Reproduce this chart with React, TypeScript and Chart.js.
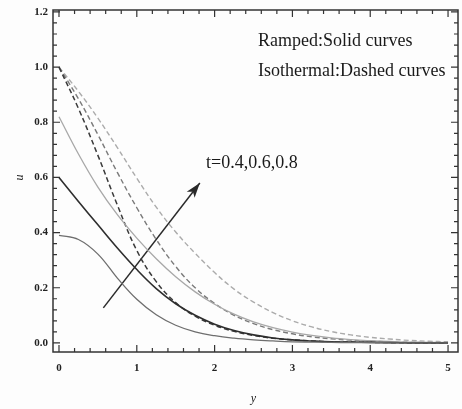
import React, { useEffect, useRef } from "react";
import { Chart, registerables } from "chart.js";

Chart.register(...registerables);

// ---- data ----
const yPos = [0, 0.25, 0.5, 0.75, 1, 1.25, 1.5, 1.75, 2, 2.25, 2.5, 2.75, 3, 3.25, 3.5, 3.75, 4, 4.25, 4.5, 4.75, 5];

const rampedT04 = [0.39, 0.375, 0.322, 0.235, 0.158, 0.102, 0.064, 0.040, 0.026, 0.017, 0.011, 0.007, 0.004, 0.003, 0.002, 0.001, 0.001, 0, 0, 0, 0];
const rampedT06 = [0.60, 0.513, 0.428, 0.344, 0.266, 0.197, 0.142, 0.10, 0.068, 0.045, 0.029, 0.018, 0.011, 0.007, 0.004, 0.003, 0.002, 0.001, 0, 0, 0];
const rampedT08 = [0.82, 0.685, 0.565, 0.465, 0.38, 0.305, 0.24, 0.185, 0.14, 0.104, 0.076, 0.055, 0.039, 0.027, 0.018, 0.012, 0.008, 0.005, 0.003, 0.002, 0.001];

const isoT04 = [1.0, 0.85, 0.68, 0.50, 0.335, 0.222, 0.146, 0.097, 0.064, 0.042, 0.027, 0.017, 0.011, 0.007, 0.004, 0.003, 0.002, 0.001, 0, 0, 0];
const isoT06 = [1.0, 0.885, 0.755, 0.618, 0.49, 0.375, 0.277, 0.20, 0.143, 0.10, 0.07, 0.048, 0.033, 0.022, 0.015, 0.01, 0.006, 0.004, 0.002, 0.001, 0.001];
const isoT08 = [1.0, 0.912, 0.815, 0.708, 0.597, 0.492, 0.402, 0.325, 0.255, 0.195, 0.148, 0.11, 0.08, 0.058, 0.041, 0.029, 0.02, 0.014, 0.009, 0.006, 0.004];

const arrowX = [0.57, 1.81];
const arrowY = [0.127, 0.58];

const xTickValues = [0, 1, 2, 3, 4, 5];
const xTickLabels = ["0", "1", "2", "3", "4", "5"];
const yTickValues = [0, 0.2, 0.4, 0.6, 0.8, 1.0, 1.2];
const yTickLabels = ["0.0", "0.2", "0.4", "0.6", "0.8", "1.0", "1.2"];

const xTitle = "y";
const yTitle = "u";
const legendLine1 = "Ramped:Solid curves";
const legendLine2 = "Isothermal:Dashed curves";
const arrowLabel = "t=0.4,0.6,0.8";

const toPts = (ys: number[]) => ys.map((v, i) => ({ x: yPos[i], y: v }));

export default function App() {
  const ref = useRef<HTMLCanvasElement>(null);

  useEffect(() => {
    document.body.style.margin = "0";
    const canvas = ref.current!;

    const decor = {
      id: "decor",
      beforeDraw(chart: any) {
        const c = chart.ctx;
        c.save();
        c.fillStyle = "#fdfdfd";
        c.fillRect(0, 0, chart.width, chart.height);
        c.restore();
      },
      afterDraw(chart: any) {
        const c = chart.ctx;
        const xs = chart.scales.x;
        const ys = chart.scales.y;
        const a = chart.chartArea;
        c.save();
        // arrow head
        const p0x = xs.getPixelForValue(arrowX[0]);
        const p0y = ys.getPixelForValue(arrowY[0]);
        const p1x = xs.getPixelForValue(arrowX[1]);
        const p1y = ys.getPixelForValue(arrowY[1]);
        const ang = Math.atan2(p1y - p0y, p1x - p0x);
        const L = 15, W = 5;
        c.fillStyle = "#2a2a2a";
        c.beginPath();
        c.moveTo(p1x, p1y);
        c.lineTo(p1x - L * Math.cos(ang) + W * Math.sin(ang), p1y - L * Math.sin(ang) - W * Math.cos(ang));
        c.lineTo(p1x - L * 0.75 * Math.cos(ang), p1y - L * 0.75 * Math.sin(ang));
        c.lineTo(p1x - L * Math.cos(ang) - W * Math.sin(ang), p1y - L * Math.sin(ang) + W * Math.cos(ang));
        c.closePath();
        c.fill();

        // frame
        c.strokeStyle = "#333";
        c.lineWidth = 1.5;
        c.strokeRect(a.left, a.top, a.right - a.left, a.bottom - a.top);

        // ticks
        c.lineWidth = 1.2;
        c.beginPath();
        for (let i = 0; i <= 25; i++) {
          const v = i * 0.2;
          const px = xs.getPixelForValue(v);
          const major = i % 5 === 0;
          const len = major ? 7 : 4;
          c.moveTo(px, a.bottom);
          c.lineTo(px, a.bottom - len);
          c.moveTo(px, a.top);
          c.lineTo(px, a.top + len);
        }
        for (let i = 0; i <= 30; i++) {
          const v = i * 0.04;
          const py = ys.getPixelForValue(v);
          const major = i % 5 === 0;
          const len = major ? 7 : 4;
          c.moveTo(a.left, py);
          c.lineTo(a.left + len, py);
          c.moveTo(a.right, py);
          c.lineTo(a.right - len, py);
        }
        c.stroke();

        // tick labels
        c.fillStyle = "#222";
        c.font = "bold 11px 'Liberation Serif', 'DejaVu Serif', serif";
        c.textAlign = "center";
        c.textBaseline = "middle";
        xTickValues.forEach((v, i) => {
          c.fillText(xTickLabels[i], xs.getPixelForValue(v), 368);
        });
        c.textAlign = "right";
        yTickValues.forEach((v, i) => {
          c.fillText(yTickLabels[i], 48, ys.getPixelForValue(v));
        });

        // axis titles
        c.font = "italic 12px 'Liberation Serif', serif";
        c.textAlign = "center";
        c.fillText(xTitle, (xs.getPixelForValue(0) + xs.getPixelForValue(5)) / 2, 399);
        c.save();
        c.translate(20, ys.getPixelForValue(0.6));
        c.rotate(-Math.PI / 2);
        c.fillText(yTitle, 0, 0);
        c.restore();

        // annotations
        c.font = "18px 'Liberation Serif', serif";
        c.textAlign = "left";
        c.fillStyle = "#1a1a1a";
        c.fillText(legendLine1, 258, 41);
        c.fillText(legendLine2, 258, 71);
        c.fillText(arrowLabel, 206, 163);
        c.restore();
      },
    };

    const common = { pointRadius: 0, fill: false, tension: 0.4 };

    const chart = new Chart(canvas, {
      type: "line",
      data: {
        datasets: [
          { ...common, data: toPts(rampedT04), borderColor: "#6e6e6e", borderWidth: 1.3 },
          { ...common, data: toPts(rampedT06), borderColor: "#2e2e2e", borderWidth: 1.6 },
          { ...common, data: toPts(rampedT08), borderColor: "#a8a8a8", borderWidth: 1.3 },
          { ...common, data: toPts(isoT04), borderColor: "#3a3a3a", borderWidth: 1.5, borderDash: [5, 3] },
          { ...common, data: toPts(isoT06), borderColor: "#7a7a7a", borderWidth: 1.4, borderDash: [5, 3] },
          { ...common, data: toPts(isoT08), borderColor: "#ababab", borderWidth: 1.4, borderDash: [5, 3] },
          {
            pointRadius: 0,
            fill: false,
            tension: 0,
            data: arrowX.map((x, i) => ({ x, y: arrowY[i] })),
            borderColor: "#2a2a2a",
            borderWidth: 1.5,
          },
        ],
      },
      options: {
        responsive: false,
        animation: false,
        devicePixelRatio: 1,
        layout: { padding: { left: 53, right: 4, top: 10, bottom: 57 } },
        plugins: { legend: { display: false }, tooltip: { enabled: false } },
        scales: {
          x: { type: "linear", min: -0.077, max: 5.128, display: false },
          y: { type: "linear", min: -0.033, max: 1.207, display: false },
        },
      },
      plugins: [decor],
    });
    return () => chart.destroy();
  }, []);

  return (
    <div style={{ width: 462, height: 409 }}>
      <canvas ref={ref} width={462} height={409} style={{ display: "block" }} />
    </div>
  );
}
